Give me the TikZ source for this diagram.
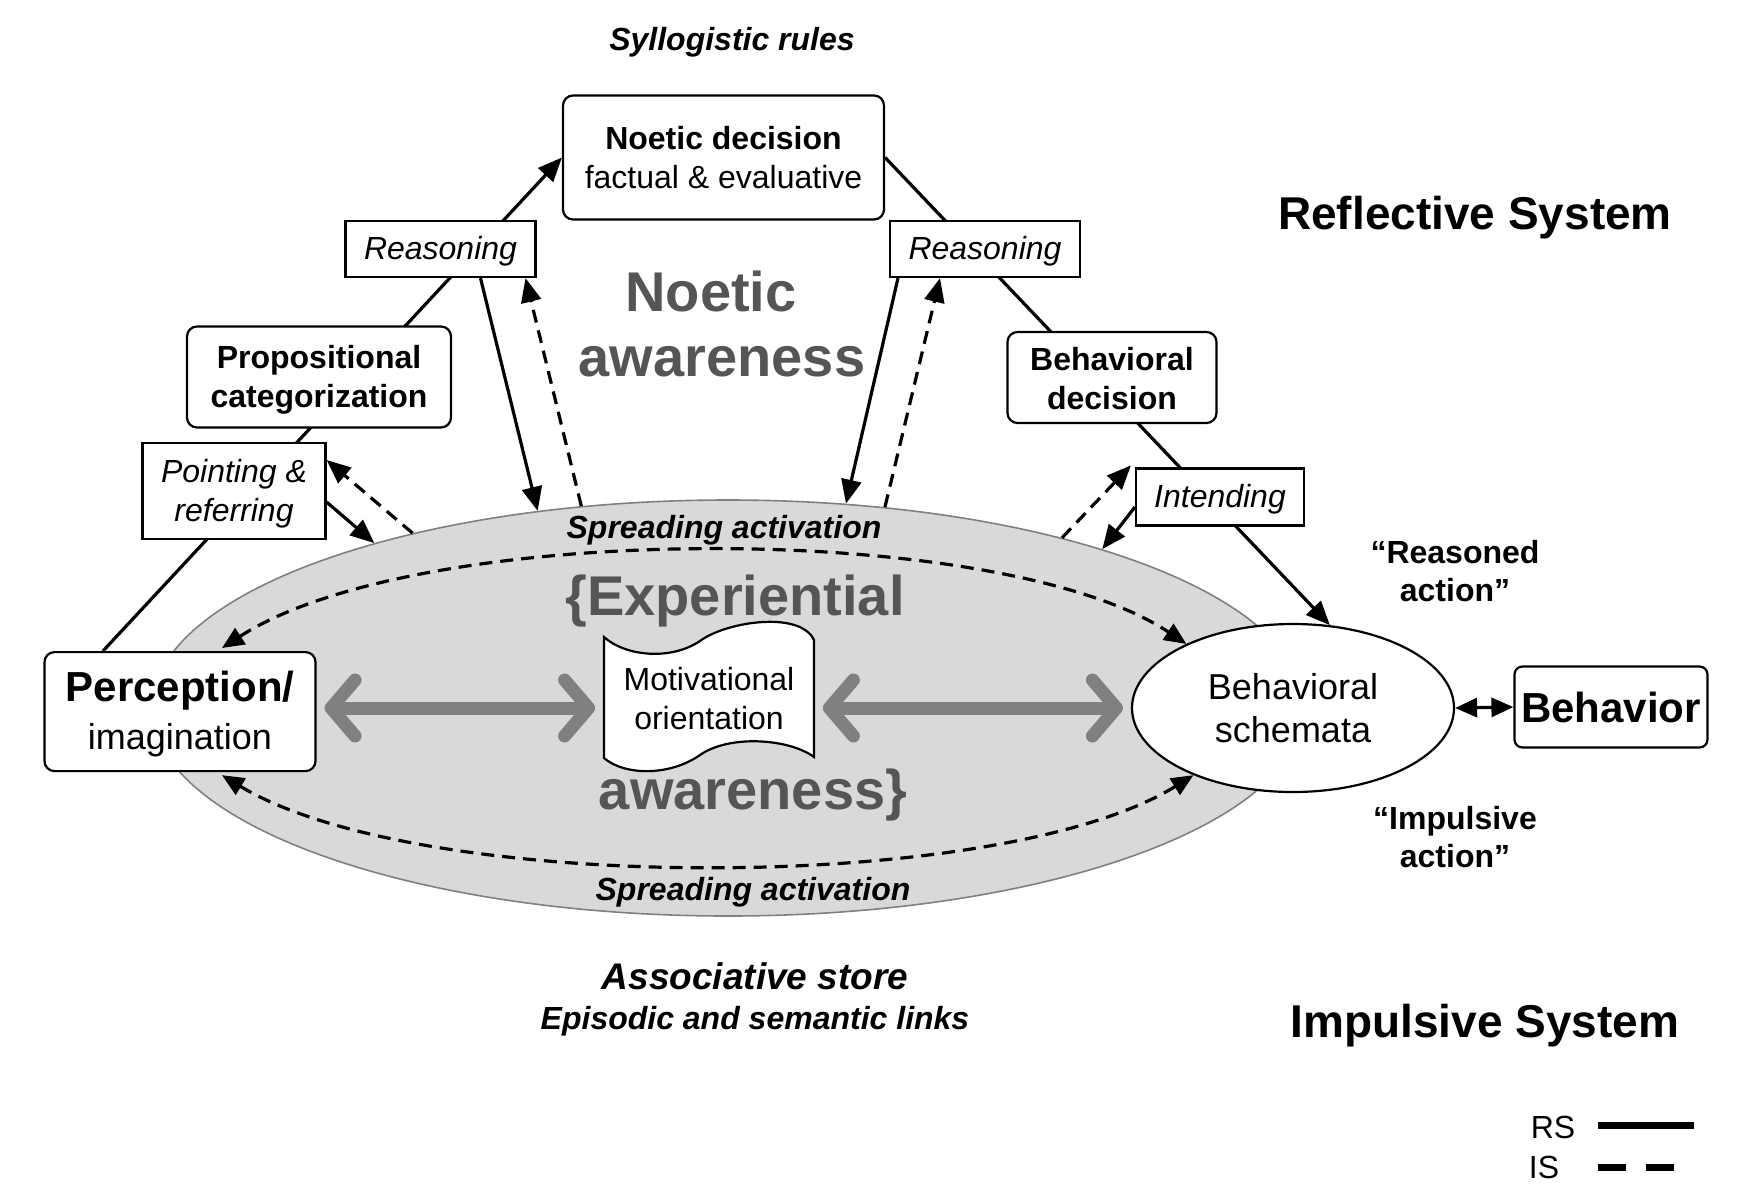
\documentclass[tikz,border=0pt]{standalone}
\usepackage{fontspec}
\setmainfont{Liberation Sans}
\usetikzlibrary{arrows.meta,shapes.geometric,calc}
\pgfdeclarelayer{bg}
\pgfsetlayers{bg,main}
\definecolor{ellfill}{HTML}{D9D9D9}
\definecolor{bigtext}{HTML}{555555}
\definecolor{arrgray}{HTML}{808080}
\newcommand\fsz[2]{\fontsize{#1}{#2}\selectfont}
\begin{document}
\begin{tikzpicture}[x=0.5pt,y=-0.5pt,
  rbox/.style={draw, line width=1.1pt, rounded corners=5pt, fill=white, align=center, inner sep=0pt},
  sbox/.style={draw, line width=1.1pt, fill=white, align=center, inner sep=0pt},
  lowtext/.style={text height=14pt},
  lowtwo/.style={text height=33.4pt},
  conn/.style={line width=1.6pt},
  tipped/.style={-{Triangle[length=12pt,width=10pt]}},
  dtipped/.style={{Triangle[length=11pt,width=9.5pt]}-{Triangle[length=11pt,width=9.5pt]}},
  dsh/.style={dash pattern=on 6.5pt off 4pt},
  bigarrow/.style={draw=arrgray, line width=6.5pt, line cap=round,
    {Straight Barb[length=12pt,width=28pt,round]}-{Straight Barb[length=12pt,width=28pt,round]},
    shorten <=4pt, shorten >=4pt},
  lbl/.style={inner sep=0pt, align=center},
  bigtxt/.style={lbl, text=bigtext, font=\fsz{28}{33}\bfseries}
]
\useasboundingbox (0,0) rectangle (1742,1190);

% associative store ellipse
\begin{pgfonlayer}{bg}
\node[ellipse, draw=arrgray, line width=0.8pt, fill=ellfill, minimum width=576pt, minimum height=208pt, inner sep=0pt] (store) at (728,708) {};
\end{pgfonlayer}

% boxes
\node[rbox, minimum width=160.5pt, minimum height=62pt, font=\fsz{16}{19.5}] (noetic) at (723.5,157.5) {\textbf{Noetic decision}\\factual \& evaluative};
\node[sbox, lowtext, minimum width=95pt, minimum height=28pt, font=\fsz{16}{19.5}\itshape] (reasL) at (440.5,249) {Reasoning};
\node[sbox, lowtext, minimum width=95pt, minimum height=28pt, font=\fsz{16}{19.5}\itshape] (reasR) at (985,249) {Reasoning};
\node[rbox, lowtwo, minimum width=132pt, minimum height=50.5pt, font=\fsz{16}{19.5}\bfseries] (prop) at (319,377) {Propositional\\categorization};
\node[rbox, text height=32.3pt, minimum width=104.5pt, minimum height=45.5pt, font=\fsz{16}{19.5}\bfseries] (behdec) at (1112,377.5) {Behavioral\\decision};
\node[sbox, lowtwo, minimum width=91.5pt, minimum height=48pt, font=\fsz{16}{19.5}\itshape] (point) at (234,491) {Pointing \&\\referring};
\node[sbox, lowtext, minimum width=84pt, minimum height=28.5pt, font=\fsz{16}{19.5}\itshape] (intend) at (1220,497) {Intending};
\node[rbox, text height=42pt, minimum width=135.5pt, minimum height=59.5pt, font=\fsz{18}{24}] (perc) at (180,711.6) {{\fsz{21}{24}\bfseries Perception/}\\imagination};
\node[ellipse, draw, line width=1.1pt, fill=white, minimum width=161pt, minimum height=84pt, inner sep=0pt, align=center, font=\fsz{18}{21.7}] (sch) at (1293,708) {Behavioral\\schemata};
\node[rbox, rounded corners=4pt, minimum width=96.5pt, minimum height=40.5pt, font=\fsz{21}{24}\bfseries] (beh) at (1611,707) {Behavior};

% motivational orientation (wavy banner)
\draw[line width=1.1pt, fill=white]
  (604,637) .. controls (625,656) and (670,661) .. (700,641)
  .. controls (725,622) and (800,610) .. (814,640)
  -- (814,757)
  .. controls (790,739) and (730,734) .. (700,755)
  .. controls (670,776) and (625,776) .. (604,758) -- cycle;
\node[lbl, minimum width=105.5pt, minimum height=60pt, font=\fsz{16}{19.5}] (mot) at (709,699) {Motivational\\orientation};

% diagonal reflective paths (behind boxes)
\coordinate (lstart) at ($(perc.north)+(-77,0)$);
\begin{pgfonlayer}{bg}
\draw[conn, tipped] (lstart) -- (noetic.west);
\draw[conn, tipped] (noetic.east) -- (sch.66);
\end{pgfonlayer}

% reasoning <-> store
\draw[conn, tipped] ($(reasL.south)+(40,0)$) -- (store.134.4);
\draw[conn, tipped, dsh] (store.126.5) -- ($(reasL.south)+(85,0)$);
\draw[conn, tipped] ($(reasR.south)+(-87,0)$) -- (store.60.4);
\draw[conn, tipped, dsh] (store.52.8) -- ($(reasR.south)+(-45,0)$);
% pointing <-> store
\draw[conn, tipped, dsh] (store.151.4) -- ($(point.east)+(0,-31)$);
\draw[conn, tipped] ($(point.east)+(0,11)$) -- (store.155.8);
% intending <-> store
\draw[conn, tipped, dsh] (store.27.7) -- ($(intend.north west)+(-4,-2)$);
\draw[conn, tipped] ($(intend.west)+(0,10)$) -- (store.23.3);
% schemata <-> behavior
\draw[conn, dtipped] (sch.east) -- (beh.west);

% spreading activation curves
\coordinate (tl) at ($(perc.north)+(42,-3)$);
\coordinate (bl) at ($(perc.south)+(42,3)$);
\draw[conn, dtipped, dsh] (tl) .. controls (420,520) and (1000,520) .. (sch.149);
\draw[conn, dtipped, dsh] (bl) .. controls (420,895) and (1000,895) .. (sch.214);

% experiential arrows
\draw[bigarrow] (perc.east |- sch.center) -- (mot.west |- sch.center);
\draw[bigarrow] (mot.east |- sch.center) -- (sch.west);

% labels
\node[lbl, font=\fsz{16}{19.5}\bfseries\itshape] (syll) at (732,42) {Syllogistic rules};
\node[lbl, font=\fsz{23}{27}\bfseries] (refl) at (1475,218) {Reflective System};
\node[lbl, font=\fsz{23}{27}\bfseries] (impl) at (1485,1026) {Impulsive System};
\node[bigtxt] (noet1) at (711,291) {Noetic};
\node[bigtxt] (noet2) at (722,362) {awareness};
\node[bigtxt] (exp1) at (735,601) {\{Experiential};
\node[bigtxt] (exp2) at (753,795) {awareness\}};
\node[lbl, font=\fsz{16}{19.5}\bfseries\itshape] (spr1) at (724,530) {Spreading activation};
\node[lbl, font=\fsz{16}{19.5}\bfseries\itshape] (spr2) at (753,892) {Spreading activation};
\node[lbl, font=\fsz{18.5}{22}\bfseries\itshape] (assoc) at (755,976) {Associative store};
\node[lbl, font=\fsz{16}{19.5}\bfseries\itshape] (epis) at (755,1021) {Episodic and semantic links};
\node[lbl, font=\fsz{16}{19}\bfseries] (reasoned) at (1455,571) {“Reasoned\\action”};
\node[lbl, font=\fsz{16}{19}\bfseries] (impulsive) at (1455,837) {“Impulsive\\action”};

% legend
\node[lbl, font=\fsz{16}{19.5}] (rs) at (1553,1127) {RS};
\node[lbl, font=\fsz{16}{19.5}] (is) at (1544,1167) {IS};
\coordinate (rs1) at (1598,1125);
\coordinate (rs2) at (1694,1125);
\coordinate (is1) at (1598,1167);
\coordinate (is2) at (1674,1167);
\draw[line width=3.5pt] (rs1) -- (rs2);
\draw[line width=3.5pt, dash pattern=on 14pt off 10pt] (is1) -- (is2);
\end{tikzpicture}
\end{document}
